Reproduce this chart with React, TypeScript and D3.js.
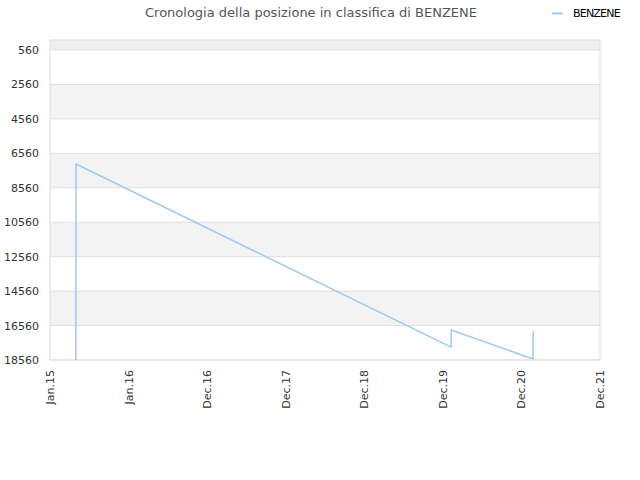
import React, { useEffect, useRef } from "react";
import * as d3 from "d3";

// ranking history for BENZENE (lower number = better position)
const DATES = [
  "2015-05-01", "2015-05-02", "2020-02-07", "2020-02-08", "2021-02-22", "2021-02-23",
];
const POSITIONS = [18560, 7180, 17810, 16820, 18500, 16880];
const Y_TICKS = [560, 2560, 4560, 6560, 8560, 10560, 12560, 14560, 16560, 18560];
const X_TICK_DATES = [
  "2015-01-01", "2016-01-01", "2016-12-31", "2017-12-31",
  "2018-12-31", "2019-12-31", "2020-12-30", "2021-12-30",
];
const X_TICK_LABELS = ["Jan.15", "Jan.16", "Dec.16", "Dec.17", "Dec.18", "Dec.19", "Dec.20", "Dec.21"];

const SERIES_NAME = "BENZENE";
const TITLE = "Cronologia della posizione in classifica di BENZENE";
const LINE_COLOR = "#9ec9f2";

const parse = d3.timeParse("%Y-%m-%d");

const App: React.FC = () => {
  const ref = useRef<SVGSVGElement>(null);

  useEffect(() => {
    if (!ref.current) return;
    const svg = d3.select(ref.current);
    svg.selectAll("*").remove();

    const left = 50, right = 600, top = 40, bottom = 360;
    const font = "DejaVu Sans, sans-serif";

    const x = d3.scaleTime()
      .domain([parse(X_TICK_DATES[0]) as Date, parse(X_TICK_DATES[X_TICK_DATES.length - 1]) as Date])
      .range([left, right]);

    const y = d3.scaleLinear()
      .domain([Y_TICKS[0], Y_TICKS[Y_TICKS.length - 1]])
      .range([50, bottom]);

    // alternating bands between grid lines (top strip included)
    const bandEdges = [y.invert(top), ...Y_TICKS];
    for (let i = 0; i < bandEdges.length - 1; i++) {
      if (i % 2 === 0) {
        svg.append("rect")
          .attr("x", left)
          .attr("y", y(bandEdges[i]))
          .attr("width", right - left)
          .attr("height", y(bandEdges[i + 1]) - y(bandEdges[i]))
          .attr("fill", i === 0 ? "#eeeeee" : "#f3f3f3");
      }
    }

    // horizontal grid
    svg.append("g")
      .selectAll("line")
      .data(Y_TICKS)
      .enter()
      .append("line")
      .attr("x1", left)
      .attr("x2", right)
      .attr("y1", (d: number) => y(d))
      .attr("y2", (d: number) => y(d))
      .attr("stroke", "#e0e0e0")
      .attr("stroke-width", 1);

    // frame
    svg.append("rect")
      .attr("x", left)
      .attr("y", top)
      .attr("width", right - left)
      .attr("height", bottom - top)
      .attr("fill", "none")
      .attr("stroke", "#dddddd")
      .attr("stroke-width", 1);

    // y labels
    svg.append("g")
      .selectAll("text")
      .data(Y_TICKS)
      .enter()
      .append("text")
      .attr("x", 39)
      .attr("y", (d: number) => y(d) + 4)
      .attr("text-anchor", "end")
      .style("font-family", font)
      .style("font-size", "11px")
      .style("fill", "#333")
      .text((d: number) => String(d));

    // x labels (rotated)
    svg.append("g")
      .selectAll("text")
      .data(X_TICK_DATES)
      .enter()
      .append("text")
      .attr("transform", (d: string) => `translate(${x(parse(d) as Date) + 4},${bottom + 10}) rotate(-90)`)
      .attr("text-anchor", "end")
      .style("font-family", font)
      .style("font-size", "11px")
      .style("fill", "#333")
      .text((_d: string, i: number) => X_TICK_LABELS[i]);

    // series line
    const points: [Date, number][] = DATES.map((d, i) => [parse(d) as Date, POSITIONS[i]]);
    const line = d3.line<[Date, number]>()
      .x((d) => x(d[0]))
      .y((d) => y(d[1]));

    svg.append("path")
      .datum(points)
      .attr("d", line)
      .attr("fill", "none")
      .attr("stroke", LINE_COLOR)
      .attr("stroke-width", 1.5);

    // title
    svg.append("text")
      .attr("x", 311)
      .attr("y", 17)
      .attr("text-anchor", "middle")
      .style("font-family", font)
      .style("font-size", "13px")
      .style("fill", "#555")
      .text(TITLE);

    // legend
    svg.append("line")
      .attr("x1", 552)
      .attr("x2", 563)
      .attr("y1", 13.5)
      .attr("y2", 13.5)
      .attr("stroke", LINE_COLOR)
      .attr("stroke-width", 2);

    svg.append("text")
      .attr("x", 573)
      .attr("y", 17)
      .style("font-family", font)
      .style("font-size", "11px")
      .style("letter-spacing", "-0.8px")
      .style("fill", "#000")
      .text(SERIES_NAME);
  }, []);

  return (
    <svg
      ref={ref}
      width={640}
      height={480}
      style={{ position: "absolute", left: 0, top: 0, background: "#fff" }}
    />
  );
};

export default App;
